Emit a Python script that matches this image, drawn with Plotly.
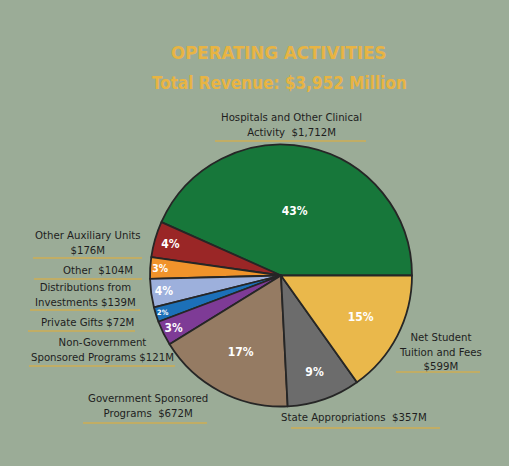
import plotly.graph_objects as go

W, H = 509, 466

# ---- data ----
categories = ["Hospitals and Other Clinical Activity", "Other Auxiliary Units", "Other",
              "Distributions from Investments", "Private Gifts",
              "Non-Government Sponsored Programs", "Government Sponsored Programs",
              "State Appropriations", "Net Student Tuition and Fees"]
values = [1712, 176, 104, 139, 72, 121, 672, 357, 599]
outer_labels = ["Hospitals and Other Clinical<br>Activity  $1,712M",
                "Other Auxiliary Units<br>$176M",
                "Other  $104M",
                "Distributions from<br>Investments $139M",
                "Private Gifts $72M",
                "Non-Government<br>Sponsored Programs $121M",
                "Government Sponsored<br>Programs  $672M",
                "State Appropriations  $357M",
                "Net Student<br>Tuition and Fees<br>$599M"]
colors = ["#17773a", "#9a2626", "#f0932b", "#9db0dc", "#1c70b8",
          "#7e3b96", "#957b63", "#6c6c6c", "#eab84b"]

# ---- layout helpers (pixel -> paper) ----
def px(x):
    return x / W

def py(y):
    return 1 - y / H

cx, cy, r = 281, 275.5, 131

BG = "#9bac97"
GOLD = "#e6ae33"
FONT = "DejaVu Sans Condensed, Liberation Sans Narrow, Arial Narrow, sans-serif"

# first slice starts at 3 o'clock and runs counterclockwise
first_share = values[0] / sum(values) * 360
rotation = 90 - first_share

fig = go.Figure(go.Pie(
    labels=categories,
    values=values,
    sort=False,
    direction="counterclockwise",
    rotation=rotation,
    marker=dict(colors=colors, line=dict(color="#262626", width=1.8)),
    texttemplate="%{percent:.0%}",
    textposition="inside",
    insidetextorientation="horizontal",
    textfont=dict(color="white", size=12, family=FONT, weight="bold"),
    showlegend=False,
    hoverinfo="label+value+percent",
    domain=dict(x=[px(cx - r), px(cx + r)], y=[py(cy + r), py(cy - r)]),
))

# label placements (pixel centers) and underline spans
label_pos = [(291, 125), (88, 243), (98, 270), (85, 295), (87, 322),
             (102, 350), (148, 406), (354, 417), (440, 352)]
underlines = [(215, 366, 141), (33, 142, 258), (34, 142, 279), (30, 140, 310),
              (28, 135, 331), (29, 175, 366), (83, 207, 423), (291, 440, 428),
              (396, 480, 372)]

annotations = [
    dict(text="<b>OPERATING ACTIVITIES</b>", x=px(279), y=py(52), xref="paper", yref="paper",
         showarrow=False, font=dict(family=FONT, size=18.5, color="#e8b443"),
         xanchor="center", yanchor="middle"),
    dict(text="<b>Total Revenue: $3,952 Million</b>", x=px(279), y=py(83), xref="paper", yref="paper",
         showarrow=False, font=dict(family=FONT, size=17, color="#e8b443"),
         xanchor="center", yanchor="middle"),
]
for t, (x, y) in zip(outer_labels, label_pos):
    annotations.append(dict(text=t, x=px(x), y=py(y), xref="paper", yref="paper",
                            showarrow=False, align="center",
                            font=dict(family=FONT, size=11.3, color="#1e1e1e"),
                            xanchor="center", yanchor="middle"))

shapes = [dict(type="line", xref="paper", yref="paper", x0=px(a), x1=px(b), y0=py(y), y1=py(y),
               line=dict(color=GOLD, width=1)) for a, b, y in underlines]

fig.update_layout(
    width=W, height=H,
    margin=dict(l=0, r=0, t=0, b=0),
    paper_bgcolor=BG, plot_bgcolor=BG,
    annotations=annotations,
    shapes=shapes,
)

fig.write_html("out.html", config={"displayModeBar": False},
               post_script="document.body.style.margin='0';")
